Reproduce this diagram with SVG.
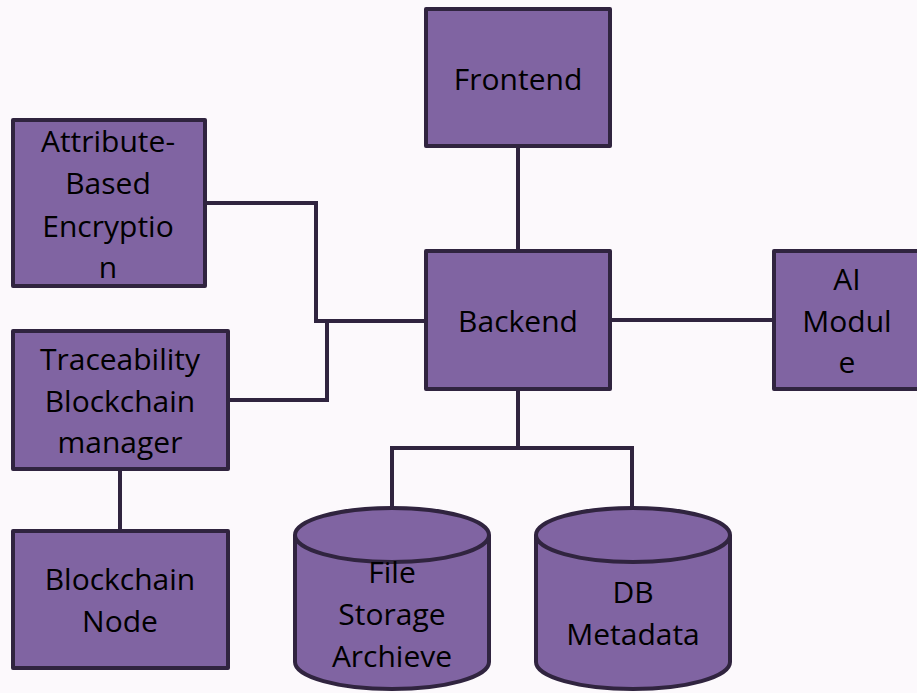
<svg xmlns="http://www.w3.org/2000/svg" width="917" height="693" viewBox="0 0 917 693">
<style>
.box{fill:#8064a2;stroke:#30243f;stroke-width:4;stroke-linejoin:round}
.cyl{fill:#8064a2;stroke:#30243f;stroke-width:4}
.con{fill:none;stroke:#30243f;stroke-width:4}
text{font-family:"Open Sans","Liberation Sans",sans-serif;font-size:30px;fill:#000;text-anchor:middle}
</style>
<rect x="0" y="0" width="917" height="693" fill="#fcf9fc"/>
<g id="connectors">
<path class="con" d="M518,148 V251"/>
<path class="con" d="M610,320 H774"/>
<path class="con" d="M205,203 H316 V321 H426"/>
<path class="con" d="M228,400 H327 V321"/>
<path class="con" d="M120,469 V531"/>
<path class="con" d="M518,389 V448"/>
<path class="con" d="M392,510 V448 H632 V510"/>
</g>
<g id="frontend">
<rect class="box" x="426" y="9" width="184" height="137"/>
<text x="518" y="90">Frontend</text>
</g>
<g id="backend">
<rect class="box" x="426" y="251" width="184" height="138"/>
<text x="518" y="332">Backend</text>
</g>
<g id="ai-module">
<rect class="box" x="774" y="251" width="150" height="138"/>
<text x="847" y="290">AI</text>
<text x="847" y="332">Modul</text>
<text x="847" y="373">e</text>
</g>
<g id="abe">
<rect class="box" x="13" y="120" width="192" height="166"/>
<text x="108" y="152">Attribute-</text>
<text x="108" y="194">Based</text>
<text x="108" y="237">Encryptio</text>
<text x="108" y="278">n</text>
</g>
<g id="traceability">
<rect class="box" x="13" y="331" width="215" height="138"/>
<text x="120" y="370">Traceability</text>
<text x="120" y="412">Blockchain</text>
<text x="120" y="453">manager</text>
</g>
<g id="blockchain-node">
<rect class="box" x="13" y="531" width="215" height="137"/>
<text x="120" y="590">Blockchain</text>
<text x="120" y="632">Node</text>
</g>
<g id="file-storage">
<path class="cyl" d="M295,535 V662 A97,27 0 0 0 489,662 V535 A97,27 0 0 0 295,535 Z"/>
<path class="cyl" fill="none" d="M295,535 A97,27 0 0 0 489,535"/>
<text x="392" y="583">File</text>
<text x="392" y="625">Storage</text>
<text x="392" y="667">Archieve</text>
</g>
<g id="db-metadata">
<path class="cyl" d="M536,535 V662 A97,27 0 0 0 730,662 V535 A97,27 0 0 0 536,535 Z"/>
<path class="cyl" fill="none" d="M536,535 A97,27 0 0 0 730,535"/>
<text x="633" y="603">DB</text>
<text x="633" y="645">Metadata</text>
</g>
</svg>
